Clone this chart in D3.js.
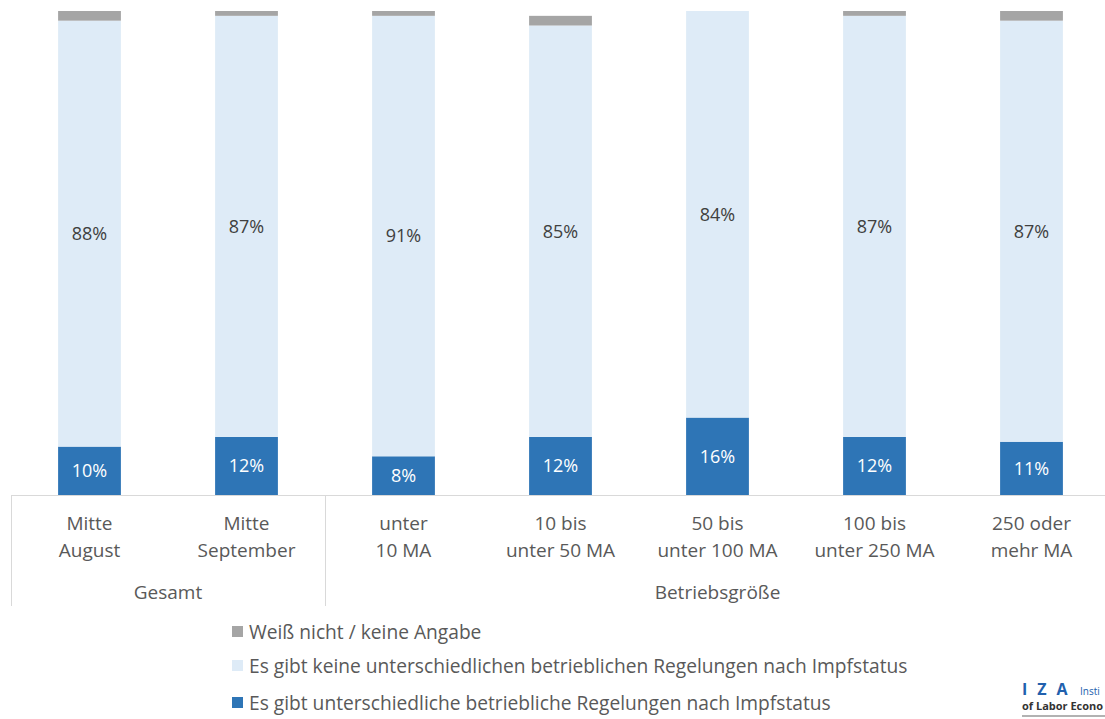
<!DOCTYPE html>
<html>
<head>
<meta charset="utf-8">
<script src="https://cdn.jsdelivr.net/npm/d3@7"></script>
<style>
  body { margin: 0; background: #fff; }
  svg { display: block; font-family: "Open Sans", sans-serif; }
</style>
</head>
<body>
<div class="chart"></div>
<script>
// categories (two lines each) and their groups
var categories = ["Mitte August", "Mitte September", "unter 10 MA", "10 bis unter 50 MA",
                  "50 bis unter 100 MA", "100 bis unter 250 MA", "250 oder mehr MA"];
var catLines = [["Mitte", "August"], ["Mitte", "September"], ["unter", "10 MA"], ["10 bis", "unter 50 MA"],
                ["50 bis", "unter 100 MA"], ["100 bis", "unter 250 MA"], ["250 oder", "mehr MA"]];
var groups = [{name: "Gesamt", from: 0, to: 1}, {name: "Betriebsgröße", from: 2, to: 6}];

// series values in percent
var ja = [10, 12, 8, 12, 16, 12, 11];
var nein = [88, 87, 91, 85, 84, 87, 87];
var weissNicht = [2, 1, 1, 2, 0, 1, 2];

var seriesKeys = ["ja", "nein", "weissNicht"];
var seriesNames = {
  ja: "Es gibt unterschiedliche betriebliche Regelungen nach Impfstatus",
  nein: "Es gibt keine unterschiedlichen betrieblichen Regelungen nach Impfstatus",
  weissNicht: "Weiß nicht / keine Angabe"
};
var colors = {ja: "#2e75b6", nein: "#deebf7", weissNicht: "#a5a5a5"};

var width = 1105, height = 719;
var svg = d3.select(".chart").append("svg").attr("width", width).attr("height", height);

var rows = categories.map(function(c, i) {
  return {cat: c, ja: ja[i], nein: nein[i], weissNicht: weissNicht[i]};
});
var stack = d3.stack().keys(seriesKeys)(rows);

var x = d3.scaleBand().domain(categories).range([11, 1110]).paddingInner(0.6).paddingOuter(0.3);
var y = d3.scaleLinear().domain([0, 100]).range([495, 11]);

var layers = svg.selectAll(".layer").data(stack).enter().append("g")
  .attr("class", "layer")
  .attr("fill", function(d) { return colors[d.key]; });

layers.selectAll("rect").data(function(d) { return d; }).enter().append("rect")
  .attr("x", function(d) { return x(d.data.cat); })
  .attr("width", x.bandwidth())
  .attr("y", function(d) { return y(d[1]); })
  .attr("height", function(d) { return y(d[0]) - y(d[1]); });

// value labels for the first two series
stack.slice(0, 2).forEach(function(layer) {
  svg.append("g").selectAll("text").data(layer).enter().append("text")
    .attr("x", function(d) { return x(d.data.cat) + x.bandwidth() / 2; })
    .attr("y", function(d) { return (y(d[0]) + y(d[1])) / 2; })
    .attr("dy", "0.35em")
    .attr("text-anchor", "middle")
    .attr("font-size", 18)
    .attr("fill", layer.key === "ja" ? "#ffffff" : "#404040")
    .text(function(d) { return Math.round(d[1] - d[0]) + "%"; });
});

// axis line and group separators
svg.append("line").attr("x1", 11).attr("x2", width).attr("y1", 495.5).attr("y2", 495.5)
  .attr("stroke", "#d9d9d9").attr("stroke-width", 1);

var step = x.step();
var sepX = [11, x(categories[2]) - (step - x.bandwidth()) / 2];
sepX.forEach(function(sx) {
  svg.append("line").attr("x1", sx + 0.5).attr("x2", sx + 0.5).attr("y1", 495).attr("y2", 606)
    .attr("stroke", "#d9d9d9");
});

var labels = svg.append("g").attr("font-size", 19).attr("fill", "#595959").attr("text-anchor", "middle");
catLines.forEach(function(lines, i) {
  var cx = x(categories[i]) + x.bandwidth() / 2;
  var t = labels.append("text").attr("x", cx).attr("y", 530);
  lines.forEach(function(l, j) {
    t.append("tspan").attr("x", cx).attr("dy", j === 0 ? 0 : 27).text(l);
  });
});

groups.forEach(function(g) {
  var cx = (x(categories[g.from]) + x(categories[g.to]) + x.bandwidth()) / 2;
  labels.append("text").attr("x", cx).attr("y", 599).text(g.name);
});

// legend
var legendKeys = ["weissNicht", "nein", "ja"];
var legendY = [632, 666, 703];
var legend = svg.append("g").attr("font-size", 19.2).attr("fill", "#595959");
legendKeys.forEach(function(k, i) {
  legend.append("rect").attr("x", 232).attr("y", legendY[i] - 6).attr("width", 11).attr("height", 11)
    .attr("fill", colors[k]);
  legend.append("text").attr("x", 249).attr("y", legendY[i]).attr("dy", "0.35em").text(seriesNames[k]);
});

// IZA logo, only the part inside the picture
var logo = svg.append("g");
logo.append("text").attr("x", 1022).attr("y", 695).attr("font-size", 16).attr("font-weight", "bold")
  .attr("fill", "#2160ad").attr("letter-spacing", 10).text("IZA");
logo.append("text").attr("x", 1080).attr("y", 695).attr("font-size", 10).attr("fill", "#2160ad").text("Insti");
logo.append("text").attr("x", 1022).attr("y", 710).attr("font-size", 11).attr("font-weight", "bold")
  .attr("fill", "#333").text("of Labor Econo");
logo.append("line").attr("x1", 1022).attr("x2", width).attr("y1", 716).attr("y2", 716)
  .attr("stroke", "#999").attr("stroke-width", 1.5);
</script>
</body>
</html>
